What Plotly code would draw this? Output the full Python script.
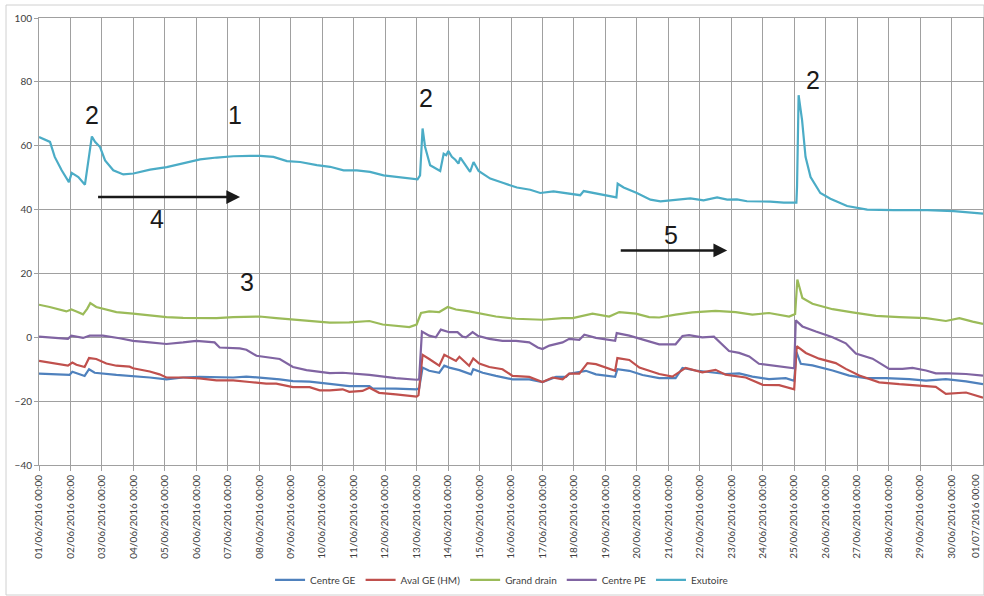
import pandas as pd
import plotly.graph_objects as go

start = pd.Timestamp("2016-06-01 00:00")

# ---- data: day offsets from 01/06/2016 00:00 and values ----
exu_d = [0, 0.35, 0.5, 0.72, 0.95, 1.04, 1.25, 1.46, 1.68, 1.78, 1.94, 2.1, 2.36, 2.68, 3.0, 3.53, 4.06,
         4.59, 5.12, 5.65, 6.18, 6.71, 7.03, 7.45, 7.88, 8.3, 8.83, 9.25, 9.68, 10.1, 10.52, 10.95, 11.58,
         12.03, 12.11, 12.19, 12.27, 12.43, 12.75, 12.86, 12.94, 13.01, 13.12, 13.23, 13.33, 13.39, 13.7,
         13.81, 13.97, 14.34, 14.76, 15.19, 15.61, 15.93, 16.35, 16.78, 17.2, 17.31, 17.73, 18.35, 18.39,
         18.58, 19.0, 19.43, 19.75, 20.38, 20.7, 21.12, 21.55, 21.87, 22.18, 22.5, 23.24, 23.67, 24.07,
         24.09, 24.14, 24.25, 24.36, 24.52, 24.83, 25.15, 25.68, 26.32, 27.16, 28.23, 29.07, 30.0]
exu_v = [62.7, 61.2, 56.5, 52.3, 48.6, 51.5, 50.2, 47.8, 62.9, 61.2, 59.6, 55.4, 52.3, 51.0, 51.3, 52.5, 53.3,
         54.6, 55.7, 56.3, 56.7, 56.8, 56.8, 56.5, 55.2, 54.9, 53.9, 53.4, 52.3, 52.3, 51.8, 50.7, 49.9,
         49.5, 50.7, 65.4, 59.6, 53.9, 52.1, 57.5, 57.0, 58.3, 56.5, 55.6, 54.4, 56.3, 51.8,
         54.9, 52.1, 49.7, 48.3, 46.9, 46.2, 45.2, 45.7, 45.0, 44.5, 45.8, 45.0, 43.8, 48.1,
         46.9, 45.2, 43.1, 42.6, 43.1, 43.5, 42.9, 43.8, 43.1, 43.2, 42.6, 42.5, 42.2, 42.2,
         47.1, 75.8, 68.0, 56.5, 50.2, 45.2, 43.4, 41.1, 40.0, 39.8, 39.8, 39.5, 38.7]

gd_d = [0, 0.34, 0.87, 1.03, 1.19, 1.40, 1.53, 1.63, 1.82, 2.14, 2.46, 2.99, 3.52, 4.05, 4.58, 5.1, 5.64,
        6.17, 7.01, 7.54, 8.07, 8.6, 9.24, 9.86, 10.5, 10.92, 11.77, 12.0, 12.14, 12.4, 12.72, 12.99,
        13.25, 13.67, 14.1, 14.52, 15.16, 16.0, 16.64, 16.96, 17.59, 18.12, 18.44, 18.97, 19.39, 19.71,
        20.23, 20.76, 21.5, 22.14, 22.67, 23.2, 23.84, 24.03, 24.1, 24.26, 24.58, 25.22, 25.85, 26.6,
        27.34, 28.19, 28.82, 29.25, 29.67, 30.0]
gd_v = [10.2, 9.5, 8.1, 8.7, 8.1, 7.2, 8.9, 10.7, 9.5, 8.7, 7.9, 7.4, 6.8, 6.3, 6.1, 6.0, 6.0,
        6.3, 6.5, 6.0, 5.5, 5.1, 4.6, 4.7, 5.1, 4.0, 3.2, 4.0, 7.6, 8.1, 7.9, 9.5,
        8.7, 8.1, 7.2, 6.5, 5.8, 5.5, 6.0, 6.0, 7.4, 6.5, 7.9, 7.4, 6.3, 6.2,
        7.1, 7.8, 8.3, 7.9, 7.1, 7.6, 6.5, 7.3, 18.1, 12.3, 10.5, 8.8, 7.8, 6.7,
        6.3, 6.0, 5.1, 6.0, 4.9, 4.2]

pe_d = [0, 0.66, 0.92, 1.03, 1.4, 1.61, 2.03, 2.56, 2.99, 3.52, 4.05, 4.58, 5.0, 5.58, 5.74, 6.38, 6.59,
        6.91, 7.22, 7.65, 8.07, 8.5, 9.24, 9.65, 10.5, 10.92, 11.34, 12.0, 12.08, 12.17, 12.4, 12.61,
        12.77, 13.04, 13.3, 13.46, 13.57, 13.78, 13.94, 14.31, 14.73, 15.16, 15.58, 15.85, 16.0, 16.22,
        16.64, 16.85, 17.17, 17.33, 17.7, 18.31, 18.36, 18.76, 19.18, 19.71, 20.23, 20.45, 20.66, 21.08,
        21.45, 21.72, 21.93, 22.25, 22.57, 22.88, 23.31, 23.73, 24.0, 24.05, 24.26, 24.69, 25.0, 25.22,
        25.64, 25.96, 26.49, 27.02, 27.44, 27.76, 28.19, 28.5, 28.93, 29.46, 30.0]
pe_v = [0.2, -0.2, -0.5, 0.5, -0.2, 0.5, 0.5, -0.3, -1.1, -1.6, -2.1, -1.6, -1.1, -1.6, -3.2, -3.5, -3.9,
        -5.8, -6.3, -6.8, -9.3, -10.3, -11.2, -11.1, -11.8, -12.4, -12.8, -13.3, -13.2, 1.8, 0.5, 0.0,
        2.4, 1.6, 1.6, 0.2, 0.0, 1.6, 0.5, -0.5, -1.1, -1.1, -1.6, -3.2, -3.7, -2.6,
        -1.6, -0.5, -0.8, 0.8, -0.2, -1.1, 1.3, 0.5, -0.8, -2.2, -2.2, 0.4, 0.7, 0.0,
        0.2, -2.4, -4.3, -4.9, -6.0, -8.3, -8.8, -9.4, -9.7, 5.3, 3.4, 1.8, 0.7, 0.0,
        -1.9, -5.1, -6.7, -9.9, -9.9, -9.6, -10.4, -11.3, -11.3, -11.5, -12.0]

av_d = [0, 0.34, 0.92, 1.06, 1.19, 1.45, 1.59, 1.82, 2.14, 2.46, 2.88, 2.99, 3.52, 3.83, 4.05, 4.58, 5.1,
        5.64, 6.17, 6.69, 7.22, 7.54, 8.07, 8.6, 8.92, 9.24, 9.65, 9.86, 10.28, 10.5, 10.81, 11.34,
        12.0, 12.06, 12.19, 12.4, 12.72, 12.88, 13.04, 13.25, 13.36, 13.67, 13.8, 13.99, 14.31, 14.73,
        15.05, 15.58, 16.0, 16.32, 16.64, 16.85, 17.17, 17.43, 17.7, 18.31, 18.38, 18.76, 19.08, 19.71,
        20.13, 20.34, 20.55, 21.08, 21.5, 21.82, 22.46, 23.0, 23.52, 24.0, 24.08, 24.37, 24.79, 25.32,
        25.64, 26.07, 26.7, 27.34, 27.97, 28.5, 28.82, 29.46, 30.0]
av_v = [-7.4, -7.9, -8.9, -7.9, -8.6, -9.3, -6.5, -6.8, -8.2, -8.9, -9.2, -9.7, -10.7, -11.6, -12.6, -12.6, -12.9,
        -13.5, -13.5, -14.0, -14.5, -14.5, -15.6, -15.6, -16.6, -16.6, -16.3, -17.1, -16.8, -15.8, -17.4, -17.9,
        -18.6, -18.1, -5.5, -6.8, -8.9, -5.5, -6.3, -7.4, -6.1, -8.9, -6.6, -8.2, -9.3, -10.0,
        -12.1, -12.4, -14.0, -12.6, -13.2, -11.4, -11.4, -8.1, -8.4, -10.5, -6.5, -7.1, -9.5, -11.5,
        -12.3, -11.0, -9.6, -11.0, -10.2, -11.7, -12.6, -14.9, -15.0, -16.3, -2.8, -4.9, -6.7, -8.1,
        -9.9, -12.0, -14.1, -14.7, -15.2, -15.5, -17.7, -17.3, -18.9]

ge_d = [0, 0.66, 0.97, 1.06, 1.45, 1.59, 1.77, 2.46, 2.99, 3.52, 4.05, 4.58, 5.1, 5.64, 6.17, 6.59, 7.01,
        7.65, 8.07, 8.6, 9.24, 9.86, 10.5, 10.6, 11.34, 12.0, 12.08, 12.19, 12.4, 12.72, 12.88, 13.04,
        13.36, 13.73, 13.8, 14.1, 14.52, 15.05, 15.58, 16.0, 16.43, 16.75, 16.85, 17.38, 17.7, 18.31,
        18.38, 18.76, 19.18, 19.71, 20.23, 20.45, 20.87, 21.5, 21.82, 22.25, 22.67, 23.2, 23.73, 24.0,
        24.07, 24.21, 24.58, 25.22, 25.75, 26.28, 26.91, 27.66, 28.19, 28.82, 29.46, 30.0]
ge_v = [-11.4, -11.8, -11.8, -10.8, -12.1, -10.0, -11.1, -11.8, -12.1, -12.6, -13.2, -12.6, -12.4, -12.6, -12.6, -12.3, -12.6,
        -13.2, -13.7, -13.9, -14.6, -15.3, -15.3, -16.0, -16.1, -16.3, -16.0, -9.5, -10.5, -11.1, -8.9, -9.5,
        -10.3, -11.6, -10.0, -11.1, -12.1, -13.2, -13.2, -14.0, -12.4, -12.4, -11.4, -10.5, -11.6, -12.4,
        -10.0, -10.5, -11.8, -12.8, -12.8, -9.6, -10.4, -11.0, -11.5, -11.3, -12.3, -13.1, -12.8, -13.6,
        -4.6, -8.3, -8.8, -10.4, -12.0, -12.8, -12.8, -13.1, -13.6, -13.1, -13.8, -14.7]

series_names = ["Centre GE", "Aval GE (HM)", "Grand drain", "Centre PE", "Exutoire"]
series_colors = ["#4F81BD", "#C0504D", "#9BBB59", "#8064A2", "#4BACC6"]
series_days = [ge_d, av_d, gd_d, pe_d, exu_d]
series_vals = [ge_v, av_v, gd_v, pe_v, exu_v]

# annotation labels: (text, day, value)
labels = [("1", 6.23, 69.5), ("2", 1.69, 69.7), ("2", 12.3, 75.1), ("2", 24.6, 80.5),
          ("3", 6.6, 17.3), ("4", 3.74, 37.2), ("5", 20.1, 31.9)]
# arrows: (start day, end day, value)
arrows = [(1.83, 6.39, 43.9), (18.44, 21.87, 27.2)]


def t(d):
    return start + pd.to_timedelta(d, unit="D")


fig = go.Figure()
for name, col, dd, vv in zip(series_names, series_colors, series_days, series_vals):
    fig.add_trace(go.Scatter(x=[t(d) for d in dd], y=vv, mode="lines", name=name,
                             line=dict(color=col, width=2.2)))

for txt, d, v in labels:
    fig.add_annotation(x=t(d), y=v, text=txt, showarrow=False,
                       font=dict(family="Liberation Sans", size=25, color="#1a1a1a"))

for d0, d1, v in arrows:
    fig.add_annotation(x=t(d1), y=v, ax=t(d0), ay=v, axref="x", ayref="y",
                       xref="x", yref="y", text="", showarrow=True,
                       arrowhead=2, arrowsize=1.1, arrowwidth=2.5, arrowcolor="#1a1a1a")

ticks = pd.date_range("2016-06-01", "2016-07-01", freq="D")
tick_text = [d.strftime("%d/%m/%Y %H:%M") for d in ticks]

# last tick label (at the right edge, kept just inside the page)
fig.add_annotation(x=ticks[-1], y=0, xref="x", yref="paper", yshift=-7,
                   text=tick_text[-1], showarrow=False, textangle=-90,
                   xanchor="right", yanchor="top",
                   font=dict(family="Lato", size=10, color="#404040"))

fig.update_layout(
    width=984, height=596,
    margin=dict(l=39, r=1, t=18, b=131),
    paper_bgcolor="white", plot_bgcolor="white",
    font=dict(family="Lato", size=10, color="#404040"),
    showlegend=True,
    legend=dict(orientation="h", x=0.49, xanchor="center", y=-0.257, yanchor="middle",
                font=dict(family="Lato", size=10, color="#404040"), itemwidth=30,
                bgcolor="rgba(0,0,0,0)"),
)
fig.update_xaxes(
    type="date", range=[t(0), t(30)], tickvals=list(ticks[:-1]),
    ticktext=tick_text[:-1],
    tickangle=-90, showgrid=True, gridcolor="#A0A0A0", gridwidth=1,
    ticks="outside", ticklen=5, tickcolor="#A0A0A0",
    showline=True, linecolor="#A0A0A0", linewidth=1, mirror=True,
    tickfont=dict(family="Lato", size=10, color="#404040"), zeroline=False,
    automargin=False,
)
fig.update_yaxes(
    range=[-40, 100], tickvals=[-40, -20, 0, 20, 40, 60, 80, 100],
    showgrid=True, gridcolor="#A0A0A0", gridwidth=1,
    ticks="outside", ticklen=4, tickcolor="#A0A0A0",
    showline=True, linecolor="#A0A0A0", linewidth=1, mirror=True,
    tickfont=dict(family="Lato", size=10, color="#404040"), zeroline=False,
    automargin=False,
)
# outer chart frame
fig.add_shape(type="rect", xref="paper", yref="paper",
              x0=(6 - 39) / 944, x1=(983 - 39) / 944 + 0.001,
              y0=-(595 - 465) / 447, y1=(465 - 5) / 447,
              line=dict(color="#D0D0D0", width=1), layer="below")

fig.write_html("out.html", config={"displayModeBar": False},
               post_script="document.body.style.margin='0';document.body.style.overflow='hidden';")
